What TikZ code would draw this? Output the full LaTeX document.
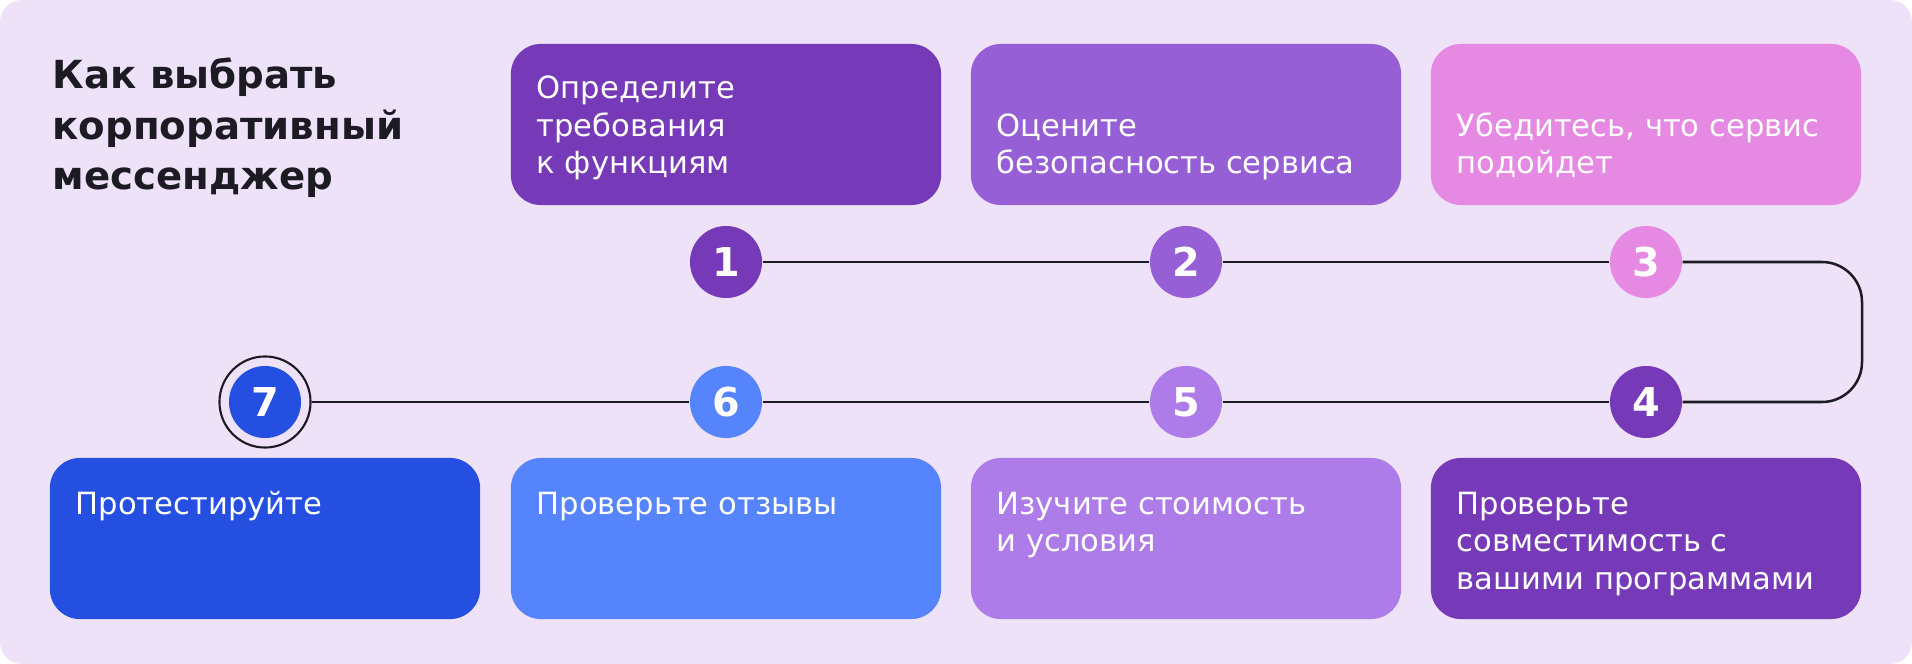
\documentclass[tikz,border=0pt]{standalone}
\usepackage{fontspec}
\setmainfont{DejaVu Sans}
\definecolor{pagebg}{HTML}{EEE2F8}
\definecolor{inkdark}{HTML}{1C1A22}
\definecolor{stepA}{HTML}{763AB8}
\definecolor{stepB}{HTML}{965FD6}
\definecolor{stepC}{HTML}{E589E2}
\definecolor{stepE}{HTML}{AE7CE8}
\definecolor{stepF}{HTML}{5684FD}
\definecolor{stepG}{HTML}{244FE0}
\begin{document}
\begin{tikzpicture}[x=0.01cm,y=-0.01cm,
  card/.style={rounded corners=0.3cm,minimum width=4.3cm,minimum height=1.61cm,inner sep=0},
  cardtext/.style={text=white,align=left,inner sep=0,font=\fontsize{8.7}{10.8}\selectfont},
  num/.style={circle,minimum size=0.72cm,inner sep=0,text=white,font=\fontsize{11.3}{12}\selectfont\bfseries},
  conn/.style={draw=inkdark,line width=0.72pt}]
\useasboundingbox (0,0) rectangle (1912,664);
\fill[pagebg,rounded corners=0.22cm] (0,0) rectangle (1912,664);
\node[anchor=base west,align=left,inner sep=0,text=inkdark,font=\fontsize{11}{14.5}\selectfont\bfseries] (title) at (52,190) {Как выбрать\\корпоративный\\мессенджер};
% cards, top row
\node[card,fill=stepA] (b1) at (726,124.5) {};
\node[card,fill=stepB] (b2) at (1186,124.5) {};
\node[card,fill=stepC] (b3) at (1646,124.5) {};
\node[cardtext,anchor=base west] (t1) at (536,174) {Определите\\требования\\к функциям};
\node[cardtext,anchor=base west] (t2) at (996,174) {Оцените\\безопасность сервиса};
\node[cardtext,anchor=base west] (t3) at (1456,174) {Убедитесь, что сервис\\подойдет};
% cards, bottom row
\node[card,fill=stepG] (b7) at (265,538.5) {};
\node[card,fill=stepF] (b6) at (726,538.5) {};
\node[card,fill=stepE] (b5) at (1186,538.5) {};
\node[card,fill=stepA] (b4) at (1646,538.5) {};
\node[cardtext,anchor=north west] (t7) at (75,491) {Протестируйте};
\node[cardtext,anchor=north west] (t6) at (536,491) {Проверьте отзывы};
\node[cardtext,anchor=north west] (t5) at (996,491) {Изучите стоимость\\и условия};
\node[cardtext,anchor=north west] (t4) at (1456,491) {Проверьте\\совместимость с\\вашими программами};
% numbered steps
\node[num,fill=stepA] (n1) at (726,262) {1};
\node[num,fill=stepB] (n2) at (1186,262) {2};
\node[num,fill=stepC] (n3) at (1646,262) {3};
\node[num,fill=stepA] (n4) at (1646,402) {4};
\node[num,fill=stepE] (n5) at (1186,402) {5};
\node[num,fill=stepF] (n6) at (726,402) {6};
\node[num,fill=stepG] (n7) at (265,402) {7};
\node[circle,draw=inkdark,line width=0.6pt,minimum size=0.91cm,inner sep=0] (ring7) at (n7) {};
\coordinate (turn) at (1862,332);
\draw[conn] (n1) -- (n2) -- (n3);
\draw[conn,rounded corners=0.4cm] (n3.east) -- (n3.east -| turn) -- (n4.east -| turn) -- (n4.east);
\draw[conn] (n4) -- (n5) -- (n6) -- (ring7);
\end{tikzpicture}
\end{document}
